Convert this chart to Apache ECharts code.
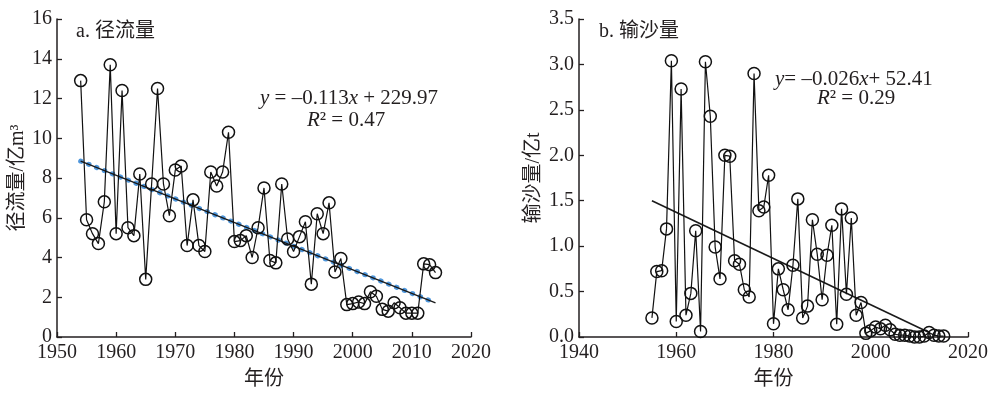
<!DOCTYPE html>
<html>
<head>
<meta charset="utf-8">
<script src="https://cdn.jsdelivr.net/npm/echarts@6/dist/echarts.min.js"></script>
<style>
  html, body { margin: 0; padding: 0; background: #fff; }
  #chart { width: 992px; height: 395px; }
</style>
</head>
<body>
<div id="chart"></div>
<script>
// a. 径流量 (亿m³), 1954-2014
const yearsA = [1954, 1955, 1956, 1957, 1958, 1959, 1960, 1961, 1962, 1963,
  1964, 1965, 1966, 1967, 1968, 1969, 1970, 1971, 1972, 1973,
  1974, 1975, 1976, 1977, 1978, 1979, 1980, 1981, 1982, 1983,
  1984, 1985, 1986, 1987, 1988, 1989, 1990, 1991, 1992, 1993,
  1994, 1995, 1996, 1997, 1998, 1999, 2000, 2001, 2002, 2003,
  2004, 2005, 2006, 2007, 2008, 2009, 2010, 2011, 2012, 2013, 2014];
const runoff = [12.9, 5.9, 5.2, 4.7, 6.8, 13.7, 5.2, 12.4, 5.5, 5.1,
  8.2, 2.9, 7.7, 12.5, 7.7, 6.1, 8.4, 8.6, 4.6, 6.9,
  4.6, 4.3, 8.3, 7.6, 8.3, 10.3, 4.8, 4.85, 5.1, 4.0,
  5.5, 7.5, 3.85, 3.73, 7.7, 4.93, 4.3, 5.05, 5.8, 2.66,
  6.2, 5.2, 6.75, 3.27, 3.95, 1.63, 1.68, 1.76, 1.68, 2.28,
  2.05, 1.39, 1.3, 1.72, 1.47, 1.2, 1.2, 1.2, 3.68, 3.64, 3.24];
const trendA = [[1954, 8.85], [2014, 1.72]];

// b. 输沙量 (亿t), 1955-2015
const yearsB = [1955, 1956, 1957, 1958, 1959, 1960, 1961, 1962, 1963, 1964,
  1965, 1966, 1967, 1968, 1969, 1970, 1971, 1972, 1973, 1974,
  1975, 1976, 1977, 1978, 1979, 1980, 1981, 1982, 1983, 1984,
  1985, 1986, 1987, 1988, 1989, 1990, 1991, 1992, 1993, 1994,
  1995, 1996, 1997, 1998, 1999, 2000, 2001, 2002, 2003, 2004,
  2005, 2006, 2007, 2008, 2009, 2010, 2011, 2012, 2013, 2014, 2015];
const sediment = [0.21, 0.72, 0.73, 1.19, 3.04, 0.17, 2.73, 0.24, 0.48, 1.17,
  0.06, 3.03, 2.43, 0.99, 0.64, 2.0, 1.99, 0.84, 0.80, 0.52,
  0.44, 2.9, 1.39, 1.43, 1.78, 0.145, 0.75, 0.52, 0.30, 0.79,
  1.52, 0.21, 0.34, 1.29, 0.91, 0.41, 0.90, 1.23, 0.14, 1.41,
  0.47, 1.31, 0.24, 0.38, 0.04, 0.07, 0.11, 0.09, 0.13, 0.08,
  0.03, 0.02, 0.02, 0.01, 0.0, 0.0, 0.01, 0.05, 0.02, 0.01, 0.01];
const trendB = [[1955, 1.50], [2012, 0.05]];

const FONT = 'Liberation Serif, Noto Sans CJK SC, serif';
const INK = '#231f20';

const chart = echarts.init(document.getElementById('chart'), null, { renderer: 'canvas' });

function xAxisOf(gridIndex, min, max, interval) {
  return {
    type: 'value', gridIndex, min, max, interval,
    name: '年份', nameLocation: 'middle', nameGap: 33,
    nameTextStyle: { fontFamily: FONT, fontSize: 20, color: INK },
    axisLine: { lineStyle: { color: INK, width: 1.5 } },
    axisTick: { inside: true, length: 5, lineStyle: { color: INK, width: 1.3 } },
    axisLabel: { fontFamily: FONT, fontSize: 20, color: INK, margin: 6, formatter: v => String(v) },
    splitLine: { show: false }
  };
}

function yAxisOf(gridIndex, min, max, interval, name, nameGap, fmt) {
  return {
    type: 'value', gridIndex, min, max, interval,
    name, nameLocation: 'middle', nameGap,
    nameTextStyle: { fontFamily: FONT, fontSize: 20, color: INK },
    axisLine: { show: true, lineStyle: { color: INK, width: 1.5 } },
    axisTick: { show: true, inside: true, length: 5, lineStyle: { color: INK, width: 1.3 } },
    axisLabel: { fontFamily: FONT, fontSize: 20, color: INK, margin: 5, formatter: fmt },
    splitLine: { show: false }
  };
}

const pointStyle = {
  type: 'line',
  symbol: 'circle',
  symbolSize: 12,
  itemStyle: { color: 'rgba(0,0,0,0)', borderColor: '#111', borderWidth: 1.5 },
  lineStyle: { color: '#111', width: 1.2 },
  z: 3
};

const eqRich = {
  i: { fontFamily: FONT, fontSize: 21, fontStyle: 'italic', fill: INK },
  n: { fontFamily: FONT, fontSize: 21, fill: INK }
};

chart.setOption({
  animation: false,
  backgroundColor: '#fff',
  grid: [
    { left: 57, top: 19, width: 414, height: 323 },
    { left: 579, top: 19, width: 389, height: 324 }
  ],
  title: [
    { text: 'a. 径流量', left: 71, top: 17, textStyle: { fontFamily: FONT, fontSize: 20, fontWeight: 'normal', color: INK } },
    { text: 'b. 输沙量', left: 594, top: 17, textStyle: { fontFamily: FONT, fontSize: 20, fontWeight: 'normal', color: INK } }
  ],
  xAxis: [
    xAxisOf(0, 1950, 2020, 10),
    xAxisOf(1, 1940, 2020, 20)
  ],
  yAxis: [
    yAxisOf(0, 0, 16, 2, '径流量/亿m³', 28, v => String(v)),
    yAxisOf(1, 0, 3.5, 0.5, '输沙量/亿t', 35, v => v.toFixed(1))
  ],
  graphic: [
    { type: 'text', left: 260, top: 88, style: { text: '{i|y}{n| = –0.113}{i|x}{n| + 229.97}', rich: eqRich, font: '21px ' + FONT } },
    { type: 'text', left: 307, top: 110, style: { text: '{i|R}{n|² = 0.47}', rich: eqRich, font: '21px ' + FONT } },
    { type: 'text', left: 775, top: 69, style: { text: '{i|y}{n|= –0.026}{i|x}{n|+ 52.41}', rich: eqRich, font: '21px ' + FONT } },
    { type: 'text', left: 817, top: 88, style: { text: '{i|R}{n|² = 0.29}', rich: eqRich, font: '21px ' + FONT } }
  ],
  series: [
    {
      type: 'line', xAxisIndex: 0, yAxisIndex: 0, data: trendA, symbol: 'none',
      lineStyle: { color: '#4f97dc', width: 5, type: [0.5, 8], cap: 'round' }, z: 1
    },
    {
      type: 'line', xAxisIndex: 0, yAxisIndex: 0, data: trendA, symbol: 'none',
      lineStyle: { color: '#1a1a1a', width: 1.4 }, z: 2
    },
    Object.assign({}, pointStyle, {
      xAxisIndex: 0, yAxisIndex: 0,
      data: yearsA.map((y, i) => [y, runoff[i]])
    }),
    {
      type: 'line', xAxisIndex: 1, yAxisIndex: 1, data: trendB, symbol: 'none',
      lineStyle: { color: '#1a1a1a', width: 1.6 }, z: 2
    },
    Object.assign({}, pointStyle, {
      xAxisIndex: 1, yAxisIndex: 1,
      data: yearsB.map((y, i) => [y, sediment[i]])
    })
  ]
});
</script>
</body>
</html>
